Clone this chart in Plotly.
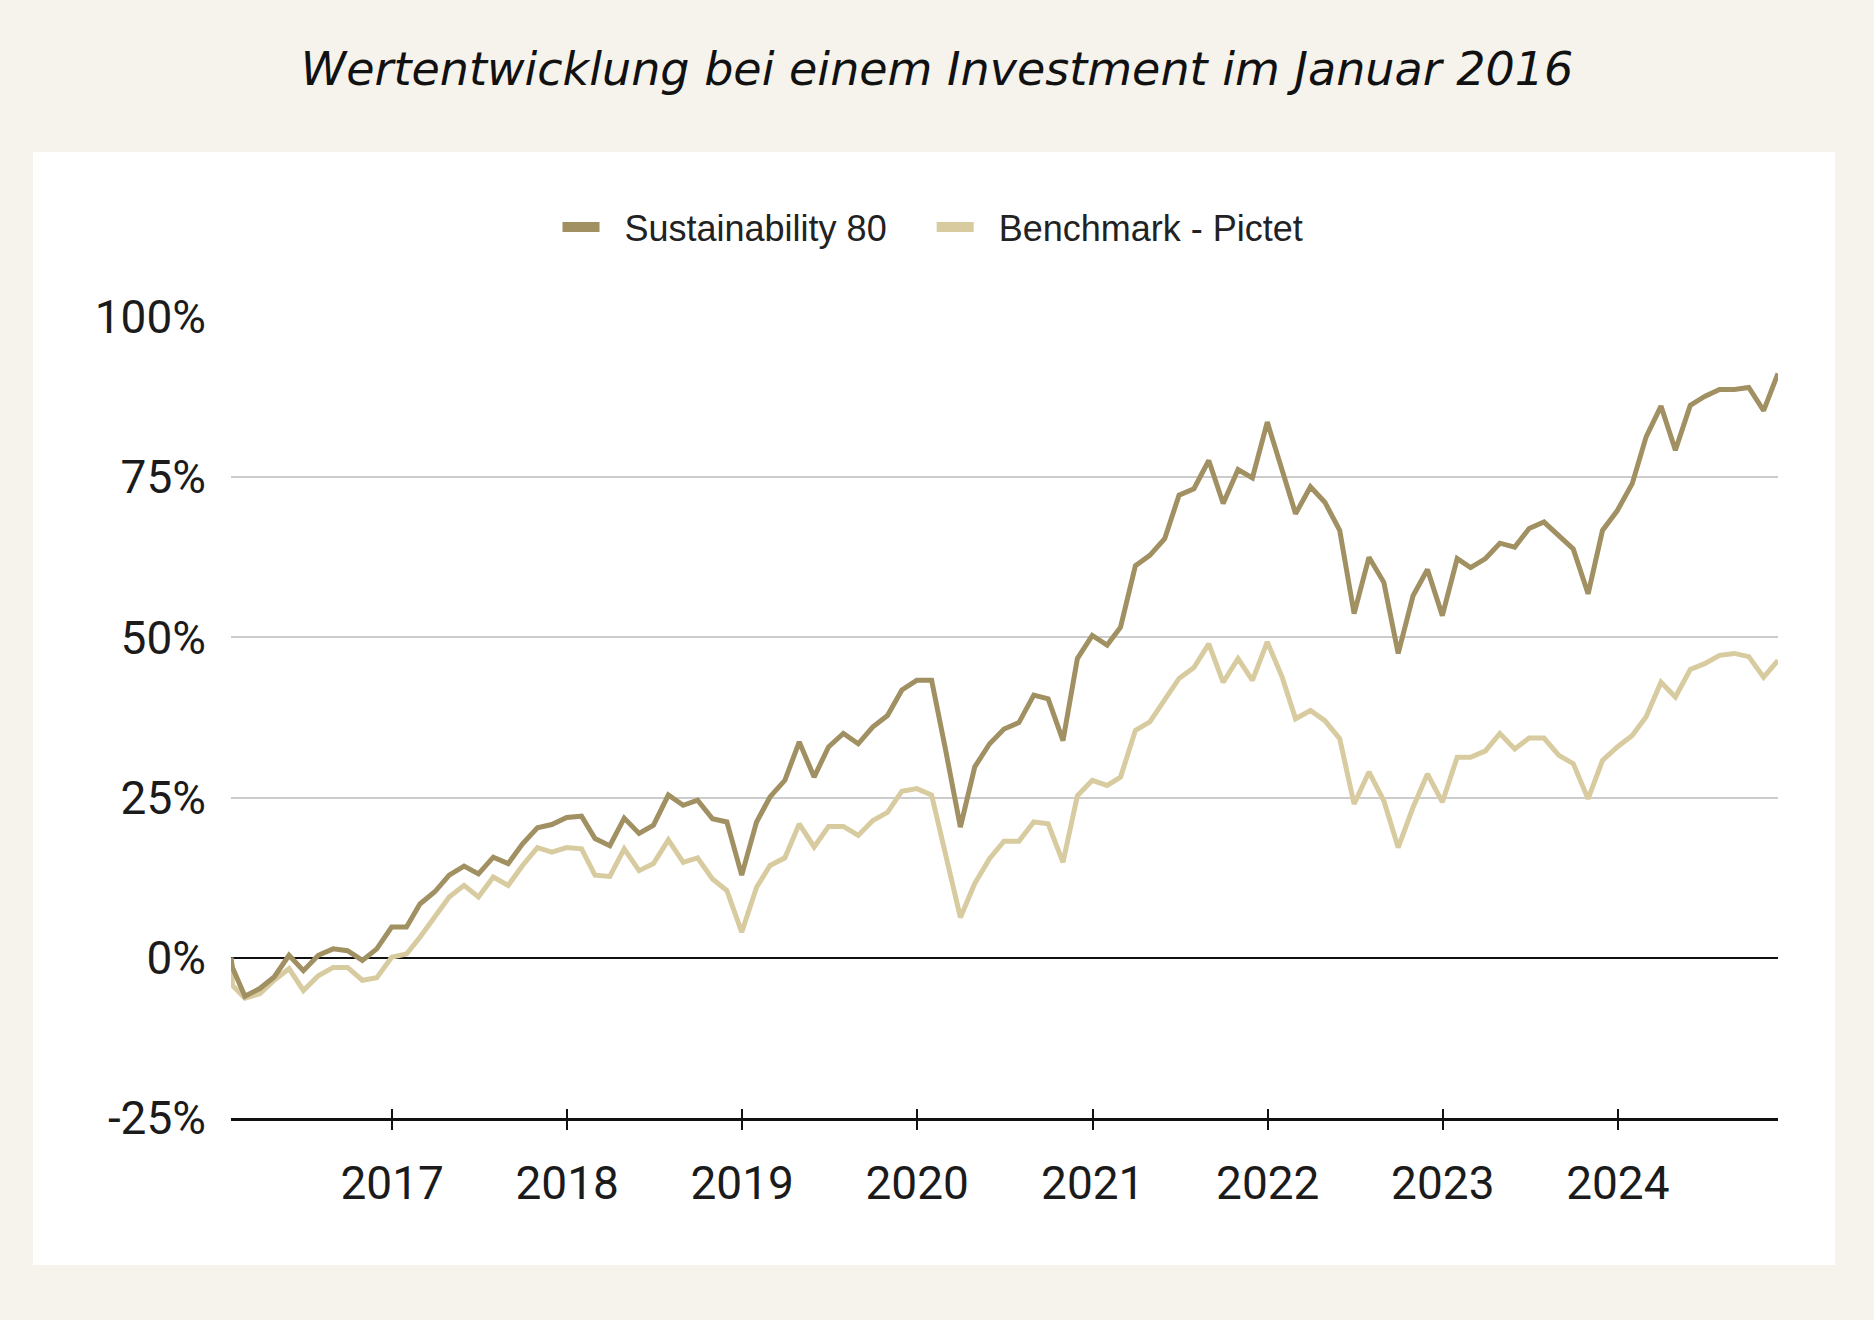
import pandas as pd
import plotly.graph_objects as go

# ---- data (cumulative performance in %) ----
start_dates = ["2016-01-31", "2016-02-03"]
start_sust = [0.0, -1.5]
start_bench = [0.0, -4.3]

# month-end values Feb 2016 .. Nov 2024
sust = [
    -6.0, -4.8, -3.0, 0.4, -2.0, 0.4, 1.4, 1.1, -0.4, 1.4, 4.8,
    4.8, 8.4, 10.3, 12.9, 14.3, 13.1, 15.7, 14.7, 17.8, 20.3, 20.8, 21.9,
    22.1, 18.6, 17.5, 21.8, 19.4, 20.7, 25.4, 23.8, 24.6, 21.7, 21.2, 12.9,
    21.2, 25.1, 27.7, 33.7, 28.2, 32.9, 35.0, 33.4, 36.0, 37.8, 41.8, 43.3,
    43.3, 32.5, 20.4, 29.8, 33.4, 35.7, 36.7, 41.0, 40.4, 33.9, 46.7, 50.3,
    48.8, 51.6, 61.2, 62.8, 65.4, 72.2, 73.2, 77.6, 70.9, 76.2, 74.9, 83.6,
    76.4, 69.3, 73.5, 71.1, 66.7, 53.7, 62.5, 58.6, 47.5, 56.5, 60.6, 53.4,
    62.3, 60.9, 62.3, 64.7, 64.1, 67.0, 68.0, 65.9, 63.8, 56.8, 66.7, 69.8,
    74.0, 81.3, 86.1, 79.2, 86.2, 87.6, 88.7, 88.7, 89.0, 85.4, 91.2,
]
bench = [
    -6.3, -5.6, -3.5, -1.7, -5.1, -2.8, -1.5, -1.5, -3.5, -3.1, 0.1,
    0.6, 3.2, 6.4, 9.5, 11.3, 9.5, 12.6, 11.3, 14.4, 17.2, 16.5, 17.2,
    17.0, 12.9, 12.7, 17.0, 13.6, 14.7, 18.4, 14.9, 15.6, 12.3, 10.5, 4.0,
    11.0, 14.4, 15.6, 20.9, 17.3, 20.5, 20.5, 19.1, 21.4, 22.7, 26.0, 26.4,
    25.4, 15.9, 6.3, 11.6, 15.5, 18.2, 18.2, 21.2, 20.9, 14.9, 25.3, 27.7,
    26.9, 28.2, 35.5, 36.8, 40.2, 43.6, 45.3, 49.0, 43.0, 46.7, 43.3, 49.3,
    43.8, 37.3, 38.6, 37.0, 34.2, 24.0, 29.0, 24.5, 17.2, 23.5, 28.7, 24.3,
    31.3, 31.3, 32.3, 35.0, 32.6, 34.3, 34.3, 31.6, 30.3, 24.8, 30.8, 32.9,
    34.7, 37.6, 43.0, 40.7, 45.0, 45.9, 47.2, 47.5, 47.0, 43.8, 46.4,
]
month_dates = pd.date_range("2016-02-29", "2024-11-30", freq="ME").strftime("%Y-%m-%d").tolist()

dates = start_dates + month_dates
sust_all = start_sust + sust
bench_all = start_bench + bench

year_ticks = ["2017-01-01", "2018-01-01", "2019-01-01", "2020-01-01",
              "2021-01-01", "2022-01-01", "2023-01-01", "2024-01-01"]
year_labels = ["2017", "2018", "2019", "2020", "2021", "2022", "2023", "2024"]
y_ticks = [-25, 0, 25, 50, 75, 100]
y_labels = ["-25%", "0%", "25%", "50%", "75%", "100%"]

names = ["Sustainability 80", "Benchmark - Pictet"]
colors = ["#A09062", "#D7CB9F"]

title_text = "Wertentwicklung bei einem Investment im Januar 2016"

NB = "\u00a0"
legend_labels = [NB * 2 + names[0] + NB * 4, NB * 2 + names[1]]

fig = go.Figure()

# main lines (benchmark first so the fund line is on top)
fig.add_trace(go.Scatter(x=dates, y=bench_all, mode="lines", name=names[1],
                         line=dict(color=colors[1], width=5), showlegend=False))
fig.add_trace(go.Scatter(x=dates, y=sust_all, mode="lines", name=names[0],
                         line=dict(color=colors[0], width=5), showlegend=False))

# legend entries (rect-like swatches)
for lab, c in zip(legend_labels, colors):
    fig.add_trace(go.Scatter(x=[None], y=[None], mode="lines", name=lab,
                             line=dict(color=c, width=12), showlegend=True))

# helper trace for the overlay axis (inside tick halves)
fig.add_trace(go.Scatter(x=[dates[0]], y=[None], xaxis="x2", mode="lines",
                         showlegend=False, hoverinfo="skip"))

W, H = 1874, 1320
L, R, T, B = 231, 96, 317, 202
pw, ph = W - L - R, H - T - B

def px_x(v):
    return (v - L) / pw

def px_y(v):
    return (H - B - v) / ph

fig.add_shape(type="rect", xref="paper", yref="paper",
              x0=px_x(33), x1=px_x(1835), y0=px_y(1265), y1=px_y(152),
              fillcolor="white", line=dict(width=0), layer="below")

tick_font = dict(family="Roboto", size=46, color="#1b1b1b")

fig.update_layout(
    width=W, height=H,
    margin=dict(l=L, r=R, t=T, b=B),
    paper_bgcolor="#F5F3EC",
    plot_bgcolor="white",
    title=dict(text=title_text, x=0.5, xanchor="center",
               y=1 - 69 / H, yanchor="middle", yref="container",
               font=dict(family="DejaVu Sans", size=46, color="#111111", style="italic")),
    legend=dict(orientation="h", x=px_x(933), xanchor="center",
                y=px_y(227), yanchor="middle",
                font=dict(family="Liberation Sans", size=36, color="#222222"),
                bgcolor="rgba(0,0,0,0)", itemwidth=37, traceorder="normal"),
    xaxis=dict(type="date", range=[dates[0], dates[-1]],
               tickmode="array", tickvals=year_ticks, ticktext=year_labels,
               ticks="outside", ticklen=9, tickwidth=1.5, tickcolor="#111111",
               showline=True, linecolor="#111111", linewidth=2.5,
               showgrid=False, zeroline=False, tickfont=tick_font,
               ticklabelstandoff=14),
    xaxis2=dict(type="date", overlaying="x", matches="x", anchor="y",
                range=[dates[0], dates[-1]],
                tickmode="array", tickvals=year_ticks, ticktext=[""] * len(year_ticks),
                ticks="inside", ticklen=9, tickwidth=1.5, tickcolor="#111111",
                showline=False, showgrid=False, zeroline=False,
                showticklabels=False, side="bottom"),
    yaxis=dict(range=[-25, 100], tickmode="array", tickvals=y_ticks, ticktext=y_labels,
               showgrid=True, gridcolor="#CCCCCC", gridwidth=2,
               zeroline=True, zerolinecolor="#111111", zerolinewidth=2,
               showline=False, ticks="", tickfont=tick_font,
               ticklabelstandoff=24),
    hovermode=False,
)

fig.write_html("out.html", config={"displayModeBar": False},
               post_script="document.body.style.margin='0';document.body.style.background='#F5F3EC';")
